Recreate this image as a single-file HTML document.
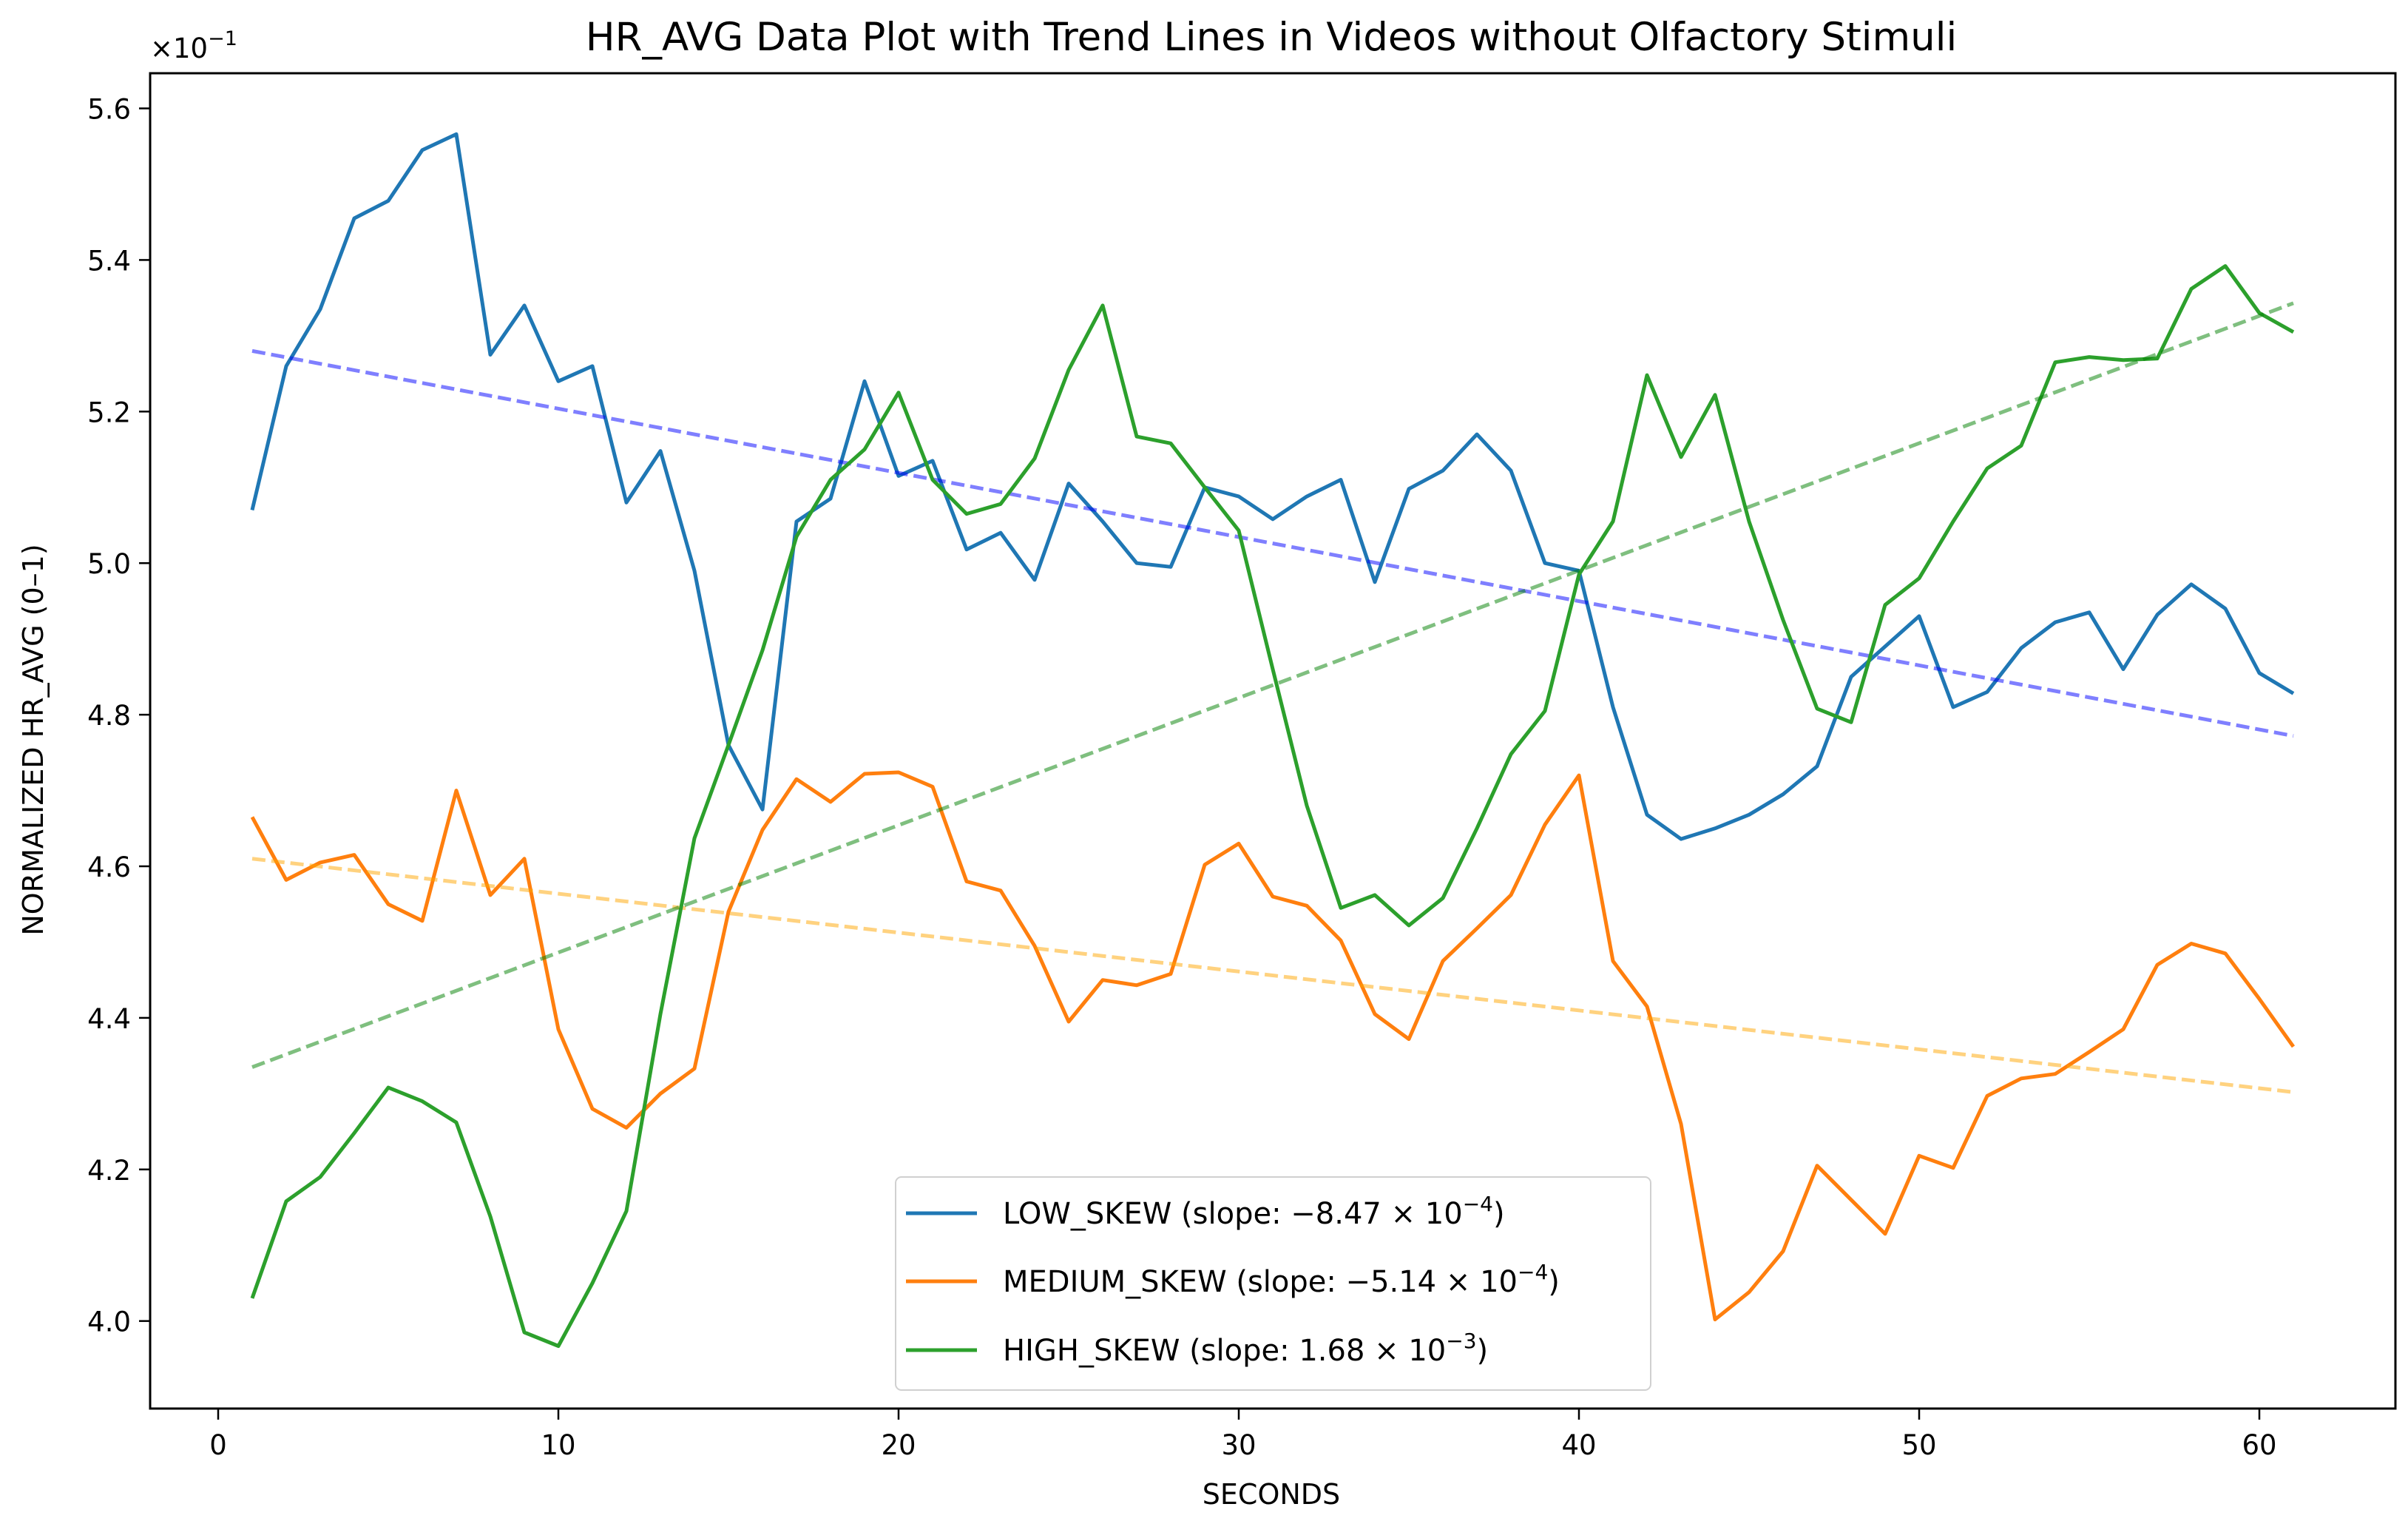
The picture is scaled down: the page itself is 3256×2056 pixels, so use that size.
<!DOCTYPE html>
<html><head><meta charset="utf-8"><style>
html,body{margin:0;padding:0;background:#fff;}
svg{display:block;font-family:"DejaVu Sans","Liberation Sans",sans-serif;}
</style></head><body>
<svg id="chart" width="3256" height="2056" viewBox="0 0 3256 2056">
<rect width="3256" height="2056" fill="#fff"/>
<text x="1719" y="68" font-size="53" text-anchor="middle" fill="#000">HR_AVG Data Plot with Trend Lines in Videos without Olfactory Stimuli</text>
<text x="203" y="78" font-size="37" fill="#000">×10<tspan dy="-17" font-size="27">−1</tspan></text>
<g id="marks"></g>
<g id="axes"></g>
<text x="1719" y="2033" font-size="38" text-anchor="middle" fill="#000">SECONDS</text>
<text transform="translate(58,1000) rotate(-90)" font-size="38" text-anchor="middle" fill="#000">NORMALIZED HR_AVG (0–1)</text>
<g>
<rect x="1211" y="1591" width="1021" height="288" rx="8" fill="#fff" fill-opacity="0.8" stroke="#d0d0d0" stroke-width="2"/>
<line x1="1225" y1="1640" x2="1321" y2="1640" stroke="#1f77b4" stroke-width="5"/>
<text x="1356" y="1654" font-size="40">LOW_SKEW (slope: −8.47 × 10<tspan dy="-17" font-size="28">−4</tspan><tspan dy="17">)</tspan></text>
<line x1="1225" y1="1732" x2="1321" y2="1732" stroke="#ff7f0e" stroke-width="5"/>
<text x="1356" y="1746" font-size="40">MEDIUM_SKEW (slope: −5.14 × 10<tspan dy="-17" font-size="28">−4</tspan><tspan dy="17">)</tspan></text>
<line x1="1225" y1="1825" x2="1321" y2="1825" stroke="#2ca02c" stroke-width="5"/>
<text x="1356" y="1839" font-size="40">HIGH_SKEW (slope: 1.68 × 10<tspan dy="-17" font-size="28">−3</tspan><tspan dy="17">)</tspan></text>
</g>
</svg>
<script>
const lowSkew=[5.07,5.26,5.335,5.455,5.478,5.545,5.566,5.275,5.34,5.24,5.26,5.08,5.148,4.99,4.76,4.675,5.055,5.085,5.24,5.115,5.135,5.018,5.04,4.978,5.105,5.055,5.0,4.995,5.1,5.088,5.058,5.088,5.11,4.975,5.098,5.122,5.17,5.122,5.0,4.99,4.81,4.668,4.636,4.65,4.668,4.695,4.732,4.85,4.89,4.93,4.81,4.83,4.888,4.922,4.935,4.86,4.932,4.972,4.94,4.855,4.828];
const mediumSkew=[4.665,4.582,4.605,4.615,4.55,4.528,4.7,4.562,4.61,4.385,4.28,4.255,4.3,4.333,4.54,4.648,4.715,4.685,4.722,4.724,4.705,4.58,4.568,4.495,4.395,4.45,4.443,4.458,4.602,4.63,4.56,4.548,4.502,4.405,4.372,4.475,4.518,4.562,4.655,4.72,4.475,4.415,4.26,4.002,4.038,4.092,4.205,4.16,4.115,4.218,4.202,4.297,4.32,4.326,4.355,4.385,4.47,4.498,4.485,4.425,4.362];
const highSkew=[4.03,4.158,4.19,4.248,4.308,4.29,4.262,4.138,3.985,3.967,4.05,4.145,4.405,4.637,4.76,4.885,5.035,5.11,5.15,5.225,5.11,5.065,5.078,5.138,5.255,5.34,5.167,5.158,5.1,5.043,4.86,4.68,4.545,4.562,4.522,4.558,4.65,4.748,4.805,4.985,5.055,5.248,5.14,5.222,5.055,4.925,4.808,4.79,4.945,4.98,5.055,5.125,5.155,5.265,5.272,5.268,5.27,5.362,5.392,5.33,5.305];
const trendLow=[5.28,4.772];
const trendMedium=[4.61,4.302];
const trendHigh=[4.335,5.343];
const xTicks=[0,10,20,30,40,50,60];
const yTicks=[4.0,4.2,4.4,4.6,4.8,5.0,5.2,5.4,5.6];
const yTickLabels=["4.0","4.2","4.4","4.6","4.8","5.0","5.2","5.4","5.6"];

const L=203,R=3239,T=99,B=1904;
const XMIN=-2,XMAX=64,YMIN=3.8845,YMAX=5.6464;
function sx(v){return L+(v-XMIN)/(XMAX-XMIN)*(R-L);}
function sy(v){return B-(v-YMIN)/(YMAX-YMIN)*(B-T);}
const NS="http://www.w3.org/2000/svg";
const marks=document.getElementById('marks');
const axes=document.getElementById('axes');
function mk(tag,attrs,parent){const e=document.createElementNS(NS,tag);for(const k in attrs)e.setAttribute(k,attrs[k]);parent.appendChild(e);return e;}

function trend(arr,color,name){
  const p=mk('line',{x1:sx(1),y1:sy(arr[0]),x2:sx(61),y2:sy(arr[1]),stroke:color,'stroke-width':5,'stroke-dasharray':'18,8','stroke-opacity':0.5},marks);
  
  
}
function series(arr,color,name){
  const d=arr.map((v,i)=>(i?'L':'M')+sx(i+1).toFixed(1)+','+sy(v).toFixed(1)).join(' ');
  const p=mk('path',{d:d,fill:'none',stroke:color,'stroke-width':5,'stroke-linejoin':'round'},marks);
  
  
}
series(lowSkew,'#1f77b4','low-skew-line');
trend(trendLow,'#0000ff','low-skew-trend');
series(mediumSkew,'#ff7f0e','medium-skew-line');
trend(trendMedium,'#ffa500','medium-skew-trend');
series(highSkew,'#2ca02c','high-skew-line');
trend(trendHigh,'#008000','high-skew-trend');

const frame=mk('rect',{x:L,y:T,width:R-L,height:B-T,fill:'none',stroke:'#000','stroke-width':3},axes);


xTicks.forEach(v=>{
  const t=mk('line',{x1:sx(v),y1:B,x2:sx(v),y2:B+15,stroke:'#000','stroke-width':2.5},axes);
  
  
  const l=mk('text',{x:sx(v),y:B+62,'font-size':37,'text-anchor':'middle'},axes);
  l.textContent=String(v);
  
  
});
yTicks.forEach((v,i)=>{
  const t=mk('line',{x1:L-15,y1:sy(v),x2:L,y2:sy(v),stroke:'#000','stroke-width':2.5},axes);
  
  
  const l=mk('text',{x:L-26,y:sy(v)+14,'font-size':37,'text-anchor':'end'},axes);
  l.textContent=yTickLabels[i];
  
  
});
</script>
</body></html>
